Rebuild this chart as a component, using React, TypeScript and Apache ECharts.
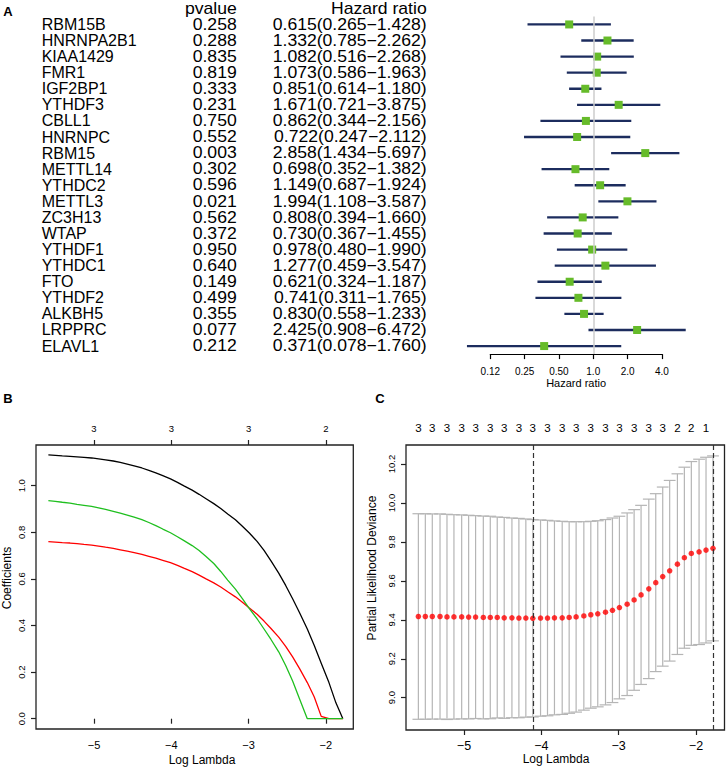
import React, { useEffect, useRef } from 'react';
import * as echarts from 'echarts';

// ---------- Panel A data ----------
const genes = ['RBM15B','HNRNPA2B1','KIAA1429','FMR1','IGF2BP1','YTHDF3','CBLL1','HNRNPC','RBM15','METTL14','YTHDC2','METTL3','ZC3H13','WTAP','YTHDF1','YTHDC1','FTO','YTHDF2','ALKBH5','LRPPRC','ELAVL1'];
const pvalues = ['0.258','0.288','0.835','0.819','0.333','0.231','0.750','0.552','0.003','0.302','0.596','0.021','0.562','0.372','0.950','0.640','0.149','0.499','0.355','0.077','0.212'];
const hr = [0.615,1.332,1.082,1.073,0.851,1.671,0.862,0.722,2.858,0.698,1.149,1.994,0.808,0.730,0.978,1.277,0.621,0.741,0.830,2.425,0.371];
const hrLow = [0.265,0.785,0.516,0.586,0.614,0.721,0.344,0.247,1.434,0.352,0.687,1.108,0.394,0.367,0.480,0.459,0.324,0.311,0.558,0.908,0.078];
const hrHigh = [1.428,2.262,2.268,1.963,1.180,3.875,2.156,2.112,5.697,1.382,1.924,3.587,1.660,1.455,1.990,3.547,1.187,1.765,1.233,6.472,1.760];
const hrTicks = [0.125, 0.25, 0.5, 1, 2, 4];
const hrTickLabels = ['0.12', '0.25', '0.50', '1.0', '2.0', '4.0'];

// ---------- Panel B / C data ----------
const logLambda = [-5.59,-5.50,-5.41,-5.31,-5.22,-5.13,-5.03,-4.94,-4.85,-4.75,-4.66,-4.57,-4.48,-4.38,-4.29,-4.20,-4.11,-4.01,-3.92,-3.83,-3.73,-3.64,-3.55,-3.45,-3.36,-3.27,-3.17,-3.08,-2.99,-2.89,-2.80,-2.71,-2.61,-2.52,-2.43,-2.34,-2.24,-2.15,-2.06,-1.96,-1.87,-1.78];
const coef1 = [1.132,1.130,1.128,1.126,1.124,1.122,1.119,1.115,1.111,1.106,1.100,1.093,1.085,1.076,1.066,1.055,1.043,1.029,1.014,0.998,0.981,0.963,0.944,0.923,0.902,0.879,0.854,0.826,0.797,0.761,0.722,0.677,0.625,0.572,0.515,0.455,0.385,0.314,0.238,0.155,0.068,0.000];
const coef2 = [0.760,0.758,0.756,0.754,0.751,0.748,0.745,0.741,0.736,0.731,0.725,0.719,0.713,0.705,0.697,0.689,0.680,0.670,0.658,0.645,0.631,0.616,0.600,0.583,0.565,0.545,0.523,0.500,0.475,0.448,0.419,0.387,0.350,0.310,0.265,0.215,0.155,0.093,0.010,0,0,0];
const coef3 = [0.936,0.933,0.929,0.925,0.920,0.916,0.911,0.905,0.898,0.890,0.882,0.874,0.865,0.854,0.842,0.829,0.814,0.798,0.781,0.763,0.743,0.722,0.696,0.666,0.632,0.595,0.556,0.515,0.472,0.429,0.385,0.340,0.287,0.228,0.162,0.085,0,0,0,0,0,0];
const nzero = [3,3,3,3,3,3,3,3,3,3,3,3,3,3,3,3,3,3,3,3,3,3,3,3,3,3,3,3,3,3,3,3,3,3,3,3,2,2,2,1,1,1];
const cvm = [9.417,9.417,9.417,9.417,9.415,9.415,9.415,9.414,9.414,9.412,9.412,9.412,9.410,9.410,9.409,9.409,9.408,9.409,9.409,9.410,9.410,9.412,9.415,9.420,9.426,9.431,9.439,9.449,9.463,9.480,9.502,9.528,9.559,9.591,9.622,9.652,9.686,9.719,9.741,9.749,9.758,9.767];
const cvsd = [0.528,0.528,0.527,0.527,0.527,0.525,0.524,0.523,0.521,0.521,0.520,0.516,0.516,0.513,0.512,0.509,0.507,0.504,0.502,0.498,0.496,0.492,0.489,0.484,0.480,0.478,0.476,0.474,0.469,0.469,0.464,0.460,0.461,0.457,0.460,0.464,0.464,0.465,0.472,0.476,0.477,0.475];
const lambdaMinLog = -4.11;
const lambda1seLog = -1.78;
const lambdaTicks = [-5, -4, -3, -2];
const nzeroBTop = ['3', '3', '3', '2'];
const coefTicks = [0, 0.2, 0.4, 0.6, 0.8, 1.0];
const devTicks = [9.0, 9.2, 9.4, 9.6, 9.8, 10.0, 10.2];

const FONT = '"Liberation Sans", Arial, Helvetica, sans-serif';
const NAVY = '#1c2c5e';
const GREENSQ = '#66bb2a';
const ROW_FONT = 16;
const ROW_SCALE = 1.1;

const negFmt = (v: number) => (v < 0 ? '\u2212' : '') + Math.abs(v);

function buildOption(): any {
  const forestData = genes.map((g, i) => [hr[i], i, hrLow[i], hrHigh[i]]);
  const cvData = logLambda.map((x, i) => [x, cvm[i], cvsd[i]]);
  const barW = 0.02 * (Math.max(...logLambda) - Math.min(...logLambda));
  const cTopVals = logLambda.filter((_, i) => i % 2 === 0);

  const lineData = (coef: number[], tag: string) =>
    logLambda.map((x, i) =>
      i === 0
        ? { value: [x, coef[i]], label: { show: true, position: 'left', distance: 3, formatter: tag, fontSize: 5, color: '#555', fontFamily: FONT } }
        : [x, coef[i]]
    );

  const axisTextBase = { color: '#000', fontFamily: FONT };
  const rowText = (s: string, x: number, y: number) => ({
    type: 'text', x, y, scaleX: ROW_SCALE,
    style: { text: s, align: 'right', verticalAlign: 'middle', fontSize: ROW_FONT, fontFamily: FONT, fill: '#000' },
  });

  return {
    animation: false,
    backgroundColor: '#fff',
    grid: [
      { left: 490.3, top: 16.4, width: 171.6, height: 337.7, outerBoundsMode: 'none' },
      { left: 36, top: 445, width: 317.3, height: 284, show: true, borderColor: '#222', borderWidth: 1.3, backgroundColor: 'transparent', outerBoundsMode: 'none' },
      { left: 406, top: 445, width: 318.5, height: 285, show: true, borderColor: '#222', borderWidth: 1.3, backgroundColor: 'transparent', outerBoundsMode: 'none' },
    ],
    xAxis: [
      {
        gridIndex: 0, type: 'log', logBase: 2, min: 0.125, max: 4,
        axisLine: { show: true, lineStyle: { color: '#000', width: 1.2 } },
        axisTick: { show: true, length: 5, customValues: hrTicks, lineStyle: { color: '#000', width: 1.2 } },
        axisLabel: {
          customValues: hrTicks, fontSize: 10, margin: 12, ...axisTextBase,
          formatter: (v: number) => {
            const k = hrTicks.findIndex((t) => Math.abs(t - v) < 1e-6);
            return k >= 0 ? hrTickLabels[k] : '';
          },
        },
        splitLine: { show: false }, minorTick: { show: false },
        name: 'Hazard ratio', nameLocation: 'middle', nameGap: 23,
        nameTextStyle: { fontSize: 11, ...axisTextBase },
      },
      {
        gridIndex: 1, type: 'value', min: -5.75, max: -1.645, position: 'bottom',
        axisLine: { show: false },
        axisTick: { show: true, length: 5, customValues: lambdaTicks, lineStyle: { color: '#222', width: 1.2 } },
        axisLabel: { customValues: lambdaTicks, formatter: negFmt, fontSize: 11, margin: 10, ...axisTextBase },
        splitLine: { show: false },
      },
      {
        gridIndex: 1, type: 'value', min: -5.75, max: -1.645, position: 'top',
        axisLine: { show: false },
        axisTick: { show: true, length: 5, customValues: lambdaTicks, lineStyle: { color: '#222', width: 1.2 } },
        axisLabel: {
          customValues: lambdaTicks, fontSize: 9.5, margin: 12, ...axisTextBase,
          formatter: (v: number) => {
            const k = lambdaTicks.findIndex((t) => Math.abs(t - v) < 1e-6);
            return k >= 0 ? nzeroBTop[k] : '';
          },
        },
        splitLine: { show: false },
      },
      {
        gridIndex: 2, type: 'value', min: -5.75, max: -1.631, position: 'bottom',
        axisLine: { show: false },
        axisTick: { show: true, length: 5, customValues: lambdaTicks, lineStyle: { color: '#222', width: 1.2 } },
        axisLabel: { customValues: lambdaTicks, formatter: negFmt, fontSize: 12.5, margin: 9, ...axisTextBase },
        splitLine: { show: false },
      },
      {
        gridIndex: 2, type: 'value', min: -5.75, max: -1.631, position: 'top',
        axisLine: { show: false },
        axisTick: { show: false },
        axisLabel: {
          customValues: cTopVals, fontSize: 11.5, margin: 11, ...axisTextBase,
          formatter: (v: number) => {
            const k = logLambda.findIndex((l) => Math.abs(l - v) < 1e-6);
            return k >= 0 ? String(nzero[k]) : '';
          },
        },
        splitLine: { show: false },
      },
    ],
    yAxis: [
      {
        gridIndex: 0, type: 'category', data: genes, inverse: true,
        axisLine: { show: false }, axisTick: { show: false }, splitLine: { show: false },
        axisLabel: { interval: 0, align: 'left', margin: 448.6, fontSize: ROW_FONT, ...axisTextBase },
      },
      {
        gridIndex: 1, type: 'value', min: -0.0442, max: 1.1747,
        axisLine: { show: false },
        axisTick: { show: true, length: 5, customValues: coefTicks, lineStyle: { color: '#222', width: 1.2 } },
        axisLabel: { customValues: coefTicks, rotate: 90, fontSize: 9.5, margin: 10, formatter: (v: number) => v.toFixed(1), ...axisTextBase },
        splitLine: { show: false },
      },
      {
        gridIndex: 2, type: 'value', min: 8.834, max: 10.298,
        axisLine: { show: false },
        axisTick: { show: true, length: 5, customValues: devTicks, lineStyle: { color: '#222', width: 1.2 } },
        axisLabel: { customValues: devTicks, rotate: 90, fontSize: 9.5, margin: 10, formatter: (v: number) => v.toFixed(1), ...axisTextBase },
        splitLine: { show: false },
      },
    ],
    series: [
      {
        type: 'line', xAxisIndex: 0, yAxisIndex: 0, data: [], z: 1, silent: true,
        markLine: {
          silent: true, symbol: ['none', 'none'], label: { show: false },
          lineStyle: { color: '#cccccc', width: 1.5, type: 'solid' },
          data: [{ xAxis: 1 }],
        },
      },
      {
        type: 'custom', xAxisIndex: 0, yAxisIndex: 0, z: 3, clip: false,
        data: forestData,
        renderItem: (params: any, api: any) => {
          const i = api.value(1);
          const lo = api.coord([api.value(2), i]);
          const hi = api.coord([api.value(3), i]);
          const c = api.coord([api.value(0), i]);
          const y = c[1];
          const hrText = hr[i].toFixed(3) + '(' + hrLow[i].toFixed(3) + '\u2212' + hrHigh[i].toFixed(3) + ')';
          return {
            type: 'group',
            children: [
              { type: 'line', shape: { x1: lo[0], y1: y, x2: hi[0], y2: y }, style: { stroke: NAVY, lineWidth: 2.3 } },
              { type: 'rect', shape: { x: c[0] - 4, y: y - 4, width: 8, height: 8 }, style: { fill: GREENSQ } },
              rowText(pvalues[i], 236.7, y),
              rowText(hrText, 426.7, y),
            ],
          };
        },
      },
      {
        type: 'line', xAxisIndex: 1, yAxisIndex: 1, data: lineData(coef1, '1'), showSymbol: false, symbol: 'none',
        lineStyle: { color: '#000', width: 1.3 }, itemStyle: { color: '#000' }, z: 3,
      },
      {
        type: 'line', xAxisIndex: 1, yAxisIndex: 1, data: lineData(coef2, '2'), showSymbol: false, symbol: 'none',
        lineStyle: { color: '#ff0000', width: 1.3 }, itemStyle: { color: '#ff0000' }, z: 3,
      },
      {
        type: 'line', xAxisIndex: 1, yAxisIndex: 1, data: lineData(coef3, '3'), showSymbol: false, symbol: 'none',
        lineStyle: { color: '#1fbf1f', width: 1.3 }, itemStyle: { color: '#1fbf1f' }, z: 3,
      },
      {
        type: 'custom', xAxisIndex: 3, yAxisIndex: 2, z: 2,
        data: cvData,
        renderItem: (params: any, api: any) => {
          const x = api.value(0), m = api.value(1), sd = api.value(2);
          const top = api.coord([x, m + sd]);
          const bot = api.coord([x, m - sd]);
          const l = api.coord([x - barW, m])[0];
          const r = api.coord([x + barW, m])[0];
          const st = { stroke: '#b5b5b5', lineWidth: 1.2 };
          return {
            type: 'group',
            children: [
              { type: 'line', shape: { x1: top[0], y1: top[1], x2: bot[0], y2: bot[1] }, style: st },
              { type: 'line', shape: { x1: l, y1: top[1], x2: r, y2: top[1] }, style: st },
              { type: 'line', shape: { x1: l, y1: bot[1], x2: r, y2: bot[1] }, style: st },
            ],
          };
        },
      },
      {
        type: 'scatter', xAxisIndex: 3, yAxisIndex: 2, z: 4,
        data: logLambda.map((x, i) => [x, cvm[i]]),
        symbol: 'circle', symbolSize: 5.5, itemStyle: { color: '#ff0000' },
        markLine: {
          silent: true, symbol: ['none', 'none'], label: { show: false },
          lineStyle: { color: '#333', width: 1.2, type: [5, 3] },
          data: [{ xAxis: lambdaMinLog }, { xAxis: lambda1seLog }],
        },
      },
    ],
    graphic: [
      { type: 'text', x: 8, y: 11, style: { text: 'A', fontSize: 13, fontWeight: 'bold', fontFamily: FONT, fill: '#000', align: 'center', verticalAlign: 'middle' } },
      { type: 'text', x: 8, y: 398, style: { text: 'B', fontSize: 13, fontWeight: 'bold', fontFamily: FONT, fill: '#000', align: 'center', verticalAlign: 'middle' } },
      { type: 'text', x: 380, y: 398.5, style: { text: 'C', fontSize: 13, fontWeight: 'bold', fontFamily: FONT, fill: '#000', align: 'center', verticalAlign: 'middle' } },
      { type: 'text', x: 236.7, y: 8.3, scaleX: ROW_SCALE, style: { text: 'pvalue', fontSize: ROW_FONT, fontFamily: FONT, fill: '#000', align: 'right', verticalAlign: 'middle' } },
      { type: 'text', x: 426.7, y: 8.3, scaleX: ROW_SCALE, style: { text: 'Hazard ratio', fontSize: ROW_FONT, fontFamily: FONT, fill: '#000', align: 'right', verticalAlign: 'middle' } },
      { type: 'text', x: 7, y: 578, rotation: Math.PI / 2, style: { text: 'Coefficients', fontSize: 12, fontFamily: FONT, fill: '#000', align: 'center', verticalAlign: 'middle' } },
      { type: 'text', x: 372, y: 568, rotation: Math.PI / 2, style: { text: 'Partial Likelihood Deviance', fontSize: 12, fontFamily: FONT, fill: '#000', align: 'center', verticalAlign: 'middle' } },
      { type: 'text', x: 202, y: 760, style: { text: 'Log Lambda', fontSize: 12, fontFamily: FONT, fill: '#000', align: 'center', verticalAlign: 'middle' } },
      { type: 'text', x: 556, y: 759, style: { text: 'Log Lambda', fontSize: 12, fontFamily: FONT, fill: '#000', align: 'center', verticalAlign: 'middle' } },
    ],
  };
}

export default function App() {
  const ref = useRef<HTMLDivElement>(null);
  useEffect(() => {
    if (!ref.current) return;
    const chart = echarts.init(ref.current, undefined, { renderer: 'svg' });
    chart.setOption(buildOption());
    return () => chart.dispose();
  }, []);
  return (
    <div
      ref={ref}
      style={{ position: 'absolute', left: 0, top: 0, width: 726, height: 767, background: '#fff' }}
    />
  );
}
